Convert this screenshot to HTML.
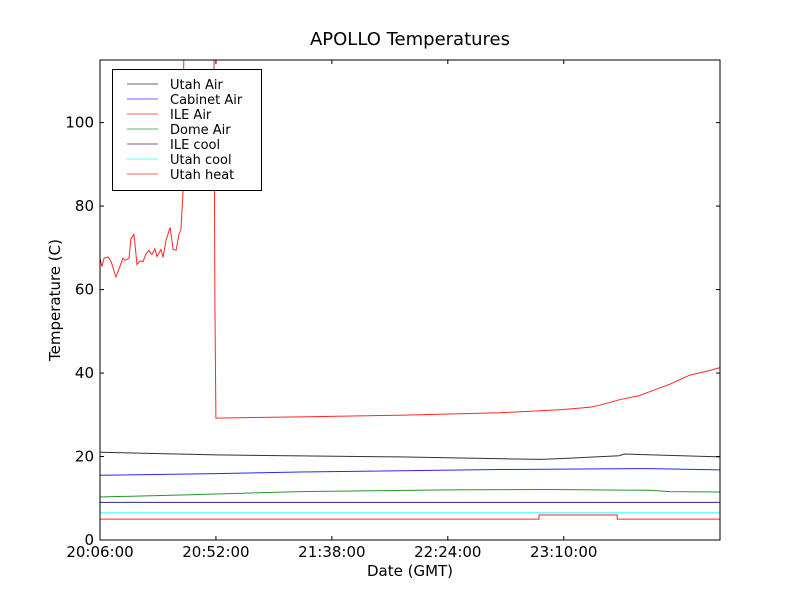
<!DOCTYPE html>
<html><head><meta charset="utf-8"><style>
body{margin:0;background:#fff;}
svg{display:block;font-family:"DejaVu Sans","Liberation Sans",sans-serif;}
</style></head><body>
<svg id="chart" width="800" height="600" viewBox="0 0 800 600">
<rect x="0" y="0" width="800" height="600" fill="#fff"/>
<text x="410" y="45" font-size="18" text-anchor="middle">APOLLO Temperatures</text>
<text x="410" y="576" font-size="15" text-anchor="middle">Date (GMT)</text>
<text x="60" y="300" font-size="15" text-anchor="middle" transform="rotate(-90 60 300)">Temperature (C)</text>
<g id="plot"></g>
</svg>
<script>
const xTickMinutes=[0,46,92,138,184];
const xTickLabels=["20:06:00","20:52:00","21:38:00","22:24:00","23:10:00"];
const yTicks=[0,20,40,60,80,100];
const seriesNames=["Utah Air","Cabinet Air","ILE Air","Dome Air","ILE cool","Utah cool","Utah heat"];
const seriesColors=["#000000","#0000ff","#ff0000","#008000","#000080","#00ffff","#ff0000"];
const utahAirT=[0,46,119,174.6,182.5,206,208,246];
const utahAirV=[21,20.4,19.9,19.3,19.5,20.2,20.6,19.9];
const cabinetT=[0,46,79.4,158.7,218,246];
const cabinetV=[15.5,15.9,16.3,16.9,17.1,16.8];
const ileAirT=[0,0.8,1.6,3.2,4.4,6.3,7.9,9.1,9.9,11.5,12.3,13.5,14.7,15.9,17.1,18.3,19.4,20.6,21.8,22.6,24.2,25,26.2,27.8,29,30.2,31.3,32.1,32.9,33.3,45.2,45.6,46,79.4,119,158.7,182.5,194.4,198.4,206,214,218,226,234,242,246];
const ileAirV=[67.5,65.5,67.5,67.8,66.7,63,65.5,67.5,67,67.5,72.3,73.2,66,66.9,66.7,68.6,69.4,68.4,69.8,67.9,69.6,67.7,71.8,74.9,69.6,69.4,73.2,74.4,82.7,120,120,57,29.2,29.5,29.9,30.5,31.2,31.8,32.3,33.6,34.6,35.5,37.3,39.5,40.6,41.3];
const domeT=[0,39.7,79.4,138.9,178.6,218,226,246];
const domeV=[10.3,10.9,11.6,12.0,12.1,11.9,11.6,11.5];
const ileCoolT=[0,246];
const ileCoolV=[9.0,9.0];
const utahCoolT=[0,246];
const utahCoolV=[6.5,6.5];
const utahHeatT=[0,174.2,174.2,205.2,205.2,246];
const utahHeatV=[5,5,6,6,5,5];
const allT=[utahAirT,cabinetT,ileAirT,domeT,ileCoolT,utahCoolT,utahHeatT];
const allV=[utahAirV,cabinetV,ileAirV,domeV,ileCoolV,utahCoolV,utahHeatV];

const L=100,R=720,T=60,B=540,xMax=246,yMax=115;
const sx=t=>L+t/xMax*(R-L);
const sy=v=>B-v/yMax*(B-T);
const NS="http://www.w3.org/2000/svg";
const g=document.getElementById('plot');
function mk(tag,attrs,parent){const e=document.createElementNS(NS,tag);for(const k in attrs)e.setAttribute(k,attrs[k]);(parent||g).appendChild(e);return e;}
const clip=mk('clipPath',{id:'clip'});mk('rect',{x:L,y:T,width:R-L,height:B-T},clip);
const lines=mk('g',{'clip-path':'url(#clip)'});


for(let i=0;i<seriesNames.length;i++){
  const pts=allT[i].map((t,j)=>sx(t).toFixed(1)+','+sy(allV[i][j]).toFixed(1)).join(' ');
  const p=mk('polyline',{points:pts,fill:'none',stroke:seriesColors[i],'stroke-width':1,'stroke-opacity':i==0?0.8:0.85},lines);
  
  
}
const frame=mk('rect',{x:L,y:T,width:R-L,height:B-T,fill:'none',stroke:'#000','stroke-width':1});


xTickMinutes.forEach((m,i)=>{
  const x=sx(m);
  mk('line',{x1:x,y1:B,x2:x,y2:B-4,stroke:'#000'});
  mk('line',{x1:x,y1:T,x2:x,y2:T+4,stroke:'#000'});
  const t=mk('text',{x:x,y:B+17,'font-size':15,'text-anchor':'middle'});t.textContent=xTickLabels[i];
  
  
});
yTicks.forEach(v=>{
  const y=sy(v);
  mk('line',{x1:L,y1:y,x2:L+4,y2:y,stroke:'#000'});
  mk('line',{x1:R,y1:y,x2:R-4,y2:y,stroke:'#000'});
  const t=mk('text',{x:L-6,y:y+5,'font-size':15,'text-anchor':'end'});t.textContent=v;
  
  
});
const leg=mk('g',{});


mk('rect',{x:112.5,y:69.5,width:149,height:121,fill:'#fff',stroke:'#000'},leg);
seriesNames.forEach((n,i)=>{
  const y=84+i*15;
  const e=mk('g',{},leg);
  
  
  mk('line',{x1:127,y1:y,x2:158,y2:y,stroke:seriesColors[i],'stroke-opacity':0.6},e);
  const t=mk('text',{x:170,y:y+5,'font-size':13},e);t.textContent=n;
});
</script>
</body></html>
